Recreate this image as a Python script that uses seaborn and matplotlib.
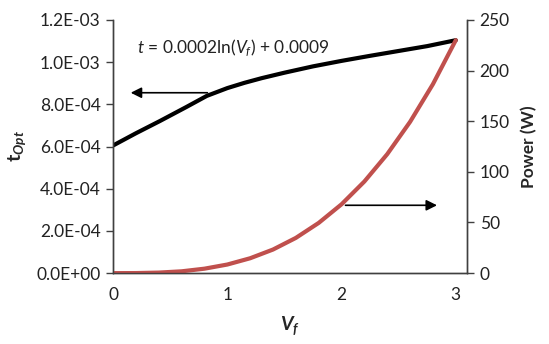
import matplotlib
matplotlib.use("Agg")
import matplotlib.pyplot as plt
import seaborn as sns
import pandas as pd
from matplotlib.ticker import FuncFormatter

sns.set_theme(style="white")
plt.rcParams['font.family'] = ['Lato', 'DejaVu Sans']
plt.rcParams['mathtext.fontset'] = 'custom'
plt.rcParams['mathtext.rm'] = 'Lato'
plt.rcParams['mathtext.it'] = 'Lato:italic'
plt.rcParams['mathtext.bf'] = 'Lato:bold'
plt.rcParams['mathtext.bfit'] = 'Lato:bold:italic'

# t_opt data
vf_t = [0.0, 0.2, 0.41, 0.64, 0.82, 1.0, 1.15, 1.3, 1.5, 1.75, 2.0, 2.25, 2.5, 2.75, 3.0]
t_opt = [6.05e-4, 6.63e-4, 7.21e-4, 7.87e-4, 8.40e-4, 8.77e-4, 9.02e-4, 9.24e-4, 9.50e-4,
         9.80e-4, 1.006e-3, 1.030e-3, 1.053e-3, 1.076e-3, 1.104e-3]

# power data
vf_p = [0.0, 0.2, 0.4, 0.6, 0.8, 1.0, 1.2, 1.4, 1.6, 1.8, 2.0, 2.2, 2.4, 2.6, 2.8, 3.0]
power = [0.0, 0.07, 0.54, 1.8, 4.4, 8.5, 14.7, 23.3, 34.8, 49.6, 68.0, 90.5, 117.5, 149.4, 186.6, 230.0]

equation = r"$\mathit{t}$ = 0.0002ln($\mathit{V_f}$) + 0.0009"

df_t = pd.DataFrame({"Vf": vf_t, "t": t_opt})
df_p = pd.DataFrame({"Vf": vf_p, "P": power})

fig = plt.figure(figsize=(5.49, 3.44), dpi=100)
ax = fig.add_axes([0.206, 0.206, 0.645, 0.736])
ax2 = ax.twinx()

sns.lineplot(data=df_t, x="Vf", y="t", ax=ax, color="black", linewidth=3.0)
sns.lineplot(data=df_p, x="Vf", y="P", ax=ax2, color="#C0504D", linewidth=3.0)

ax.set_xlim(0, 3.1)
ax.set_ylim(0, 1.2e-3)
ax2.set_ylim(0, 250)
ax.set_xticks([0, 1, 2, 3])
ax.set_yticks([0, 2e-4, 4e-4, 6e-4, 8e-4, 1e-3, 1.2e-3])
ax2.set_yticks([0, 50, 100, 150, 200, 250])

ax.yaxis.set_major_formatter(FuncFormatter(lambda v, pos: "%.1E" % v))

for a in (ax, ax2):
    for s in a.spines.values():
        s.set_color("#404040")
        s.set_linewidth(1.0)
    a.spines['top'].set_visible(False)
    a.grid(False)

ax.tick_params(axis='y', direction='out', length=5, width=1, color="#404040", labelsize=12.5, pad=4, labelcolor="#222222")
ax.tick_params(axis='x', direction='inout', length=8, width=1, color="#404040", labelsize=12.5, pad=6, labelcolor="#222222")
ax2.tick_params(axis='y', direction='out', length=5, width=1, color="#404040", labelsize=12.5, pad=4, labelcolor="#222222")

ax.set_xlabel(r"$\mathbfit{V_f}$", fontsize=14, labelpad=8)
ax.set_ylabel(r"$\mathbf{t}_{\mathbfit{Opt}}$", fontsize=14, labelpad=6)
ax2.set_ylabel("Power (W)", fontsize=12.5, fontweight="bold", labelpad=8)

ax.text(0.21, 1.065e-3, equation, fontsize=12.5, color="#222222", va="center", ha="left")

ax.annotate("", xy=(0.13, 8.55e-4), xytext=(0.85, 8.55e-4),
            arrowprops=dict(arrowstyle="-|>", color="black", lw=1.2, mutation_scale=16))
ax2.annotate("", xy=(2.86, 67), xytext=(2.01, 67),
             arrowprops=dict(arrowstyle="-|>", color="black", lw=1.2, mutation_scale=16))

fig.savefig("out.png", dpi=100)
